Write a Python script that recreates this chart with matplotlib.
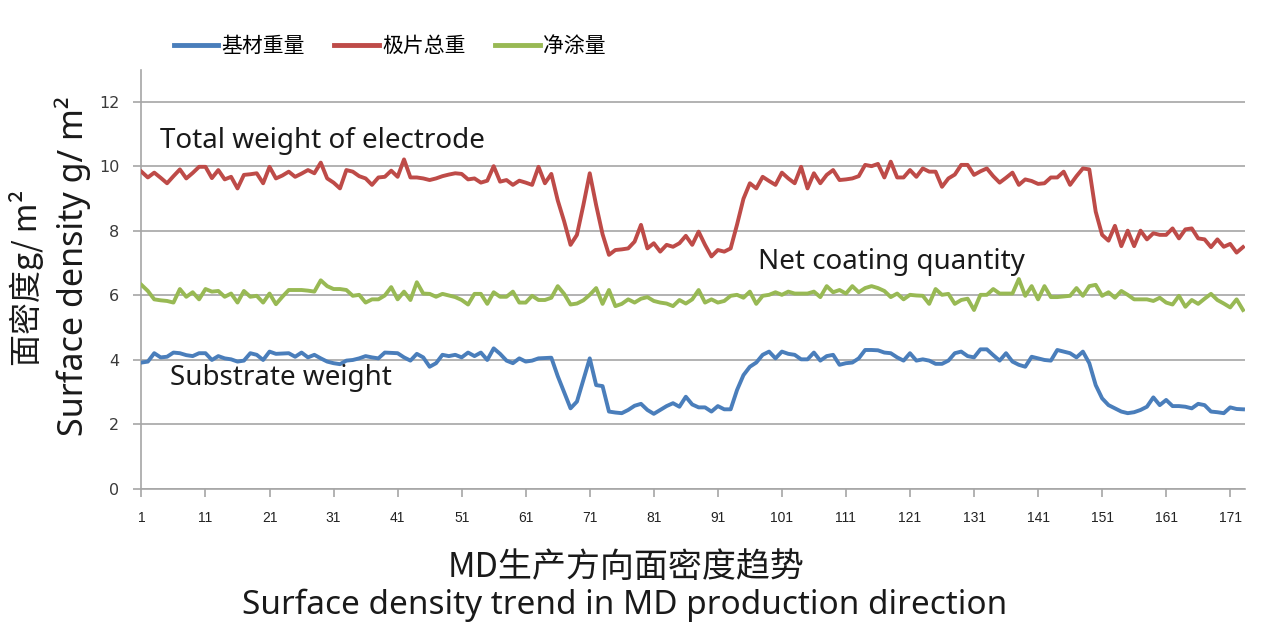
import numpy as np
import matplotlib.pyplot as plt

# 面密度数据 (g/m2)
substrate = [3.92, 3.95, 4.21, 4.08, 4.1, 4.23, 4.21, 4.15, 4.12, 4.21,
             4.21, 4.0, 4.12, 4.05, 4.02, 3.95, 3.98, 4.21, 4.16, 4.0,
             4.26, 4.19, 4.2, 4.21, 4.1, 4.23, 4.08, 4.16, 4.05, 3.95,
             3.9, 3.87, 3.98, 4.0, 4.05, 4.12, 4.08, 4.05, 4.23, 4.22,
             4.21, 4.08, 3.98, 4.19, 4.08, 3.79, 3.9, 4.16, 4.12, 4.16,
             4.08, 4.23, 4.12, 4.23, 4.0, 4.36, 4.19, 3.98, 3.9, 4.05,
             3.95, 3.98, 4.05, 4.06, 4.07, 3.5, 3.0, 2.5, 2.71, 3.38,
             4.05, 3.22, 3.19, 2.4, 2.37, 2.35, 2.45, 2.58, 2.64, 2.45,
             2.33, 2.45, 2.57, 2.66, 2.55, 2.86, 2.62, 2.53, 2.53, 2.4,
             2.57, 2.47, 2.47, 3.07, 3.53, 3.79, 3.92, 4.16, 4.26, 4.05,
             4.26, 4.19, 4.16, 4.02, 4.02, 4.23, 3.98, 4.12, 4.16, 3.85,
             3.9, 3.92, 4.05, 4.31, 4.31, 4.3, 4.23, 4.21, 4.08, 3.98,
             4.21, 3.98, 4.02, 3.98, 3.88, 3.88, 3.98, 4.21, 4.26, 4.12,
             4.08, 4.33, 4.33, 4.15, 3.98, 4.21, 3.95, 3.85, 3.79, 4.1,
             4.05, 4.0, 3.98, 4.31, 4.26, 4.21, 4.08, 4.26, 3.9, 3.22,
             2.81, 2.6, 2.5, 2.4, 2.35, 2.38, 2.45, 2.55, 2.84, 2.6,
             2.76, 2.57, 2.57, 2.55, 2.5, 2.64, 2.6, 2.4, 2.38, 2.35,
             2.53, 2.48, 2.47]

total = [9.84, 9.66, 9.81, 9.65, 9.48, 9.7, 9.91, 9.63, 9.8, 9.99,
         9.99, 9.64, 9.89, 9.6, 9.68, 9.32, 9.74, 9.76, 9.79, 9.48,
         9.99, 9.63, 9.72, 9.84, 9.68, 9.78, 9.89, 9.79, 10.12, 9.63,
         9.5, 9.32, 9.89, 9.84, 9.7, 9.63, 9.43, 9.66, 9.68, 9.87,
         9.68, 10.22, 9.66, 9.66, 9.63, 9.58, 9.63, 9.7, 9.75, 9.79,
         9.77, 9.6, 9.63, 9.5, 9.56, 10.01, 9.53, 9.58, 9.43, 9.56,
         9.5, 9.43, 9.99, 9.48, 9.77, 8.95, 8.3, 7.57, 7.88, 8.8,
         9.79, 8.8, 7.9, 7.26, 7.41, 7.43, 7.46, 7.67, 8.19, 7.46,
         7.62, 7.36, 7.57, 7.51, 7.62, 7.85, 7.57, 7.98, 7.57, 7.21,
         7.41, 7.36, 7.46, 8.2, 9.0, 9.48, 9.32, 9.68, 9.55, 9.43,
         9.81, 9.63, 9.48, 9.99, 9.32, 9.79, 9.48, 9.74, 9.89, 9.58,
         9.6, 9.63, 9.7, 10.05, 10.01, 10.08, 9.66, 10.15, 9.66, 9.66,
         9.89, 9.68, 9.94, 9.84, 9.84, 9.37, 9.63, 9.75, 10.05, 10.05,
         9.74, 9.85, 9.94, 9.7, 9.5, 9.65, 9.81, 9.43, 9.6, 9.55,
         9.46, 9.48, 9.66, 9.66, 9.84, 9.43, 9.7, 9.94, 9.91, 8.6,
         7.88, 7.7, 8.16, 7.53, 8.01, 7.53, 8.01, 7.74, 7.93, 7.88,
         7.88, 8.08, 7.77, 8.05, 8.08, 7.77, 7.74, 7.5, 7.74, 7.51,
         7.6, 7.33, 7.5]

net = [6.33, 6.14, 5.88, 5.85, 5.83, 5.78, 6.2, 5.96, 6.1, 5.88,
       6.2, 6.12, 6.14, 5.96, 6.06, 5.78, 6.14, 5.96, 5.99, 5.78,
       6.06, 5.73, 5.96, 6.17, 6.17, 6.17, 6.15, 6.12, 6.47, 6.29,
       6.2, 6.2, 6.17, 5.99, 6.02, 5.78, 5.88, 5.88, 6.0, 6.26,
       5.88, 6.12, 5.86, 6.41, 6.06, 6.05, 5.96, 6.05, 6.0, 5.95,
       5.86, 5.72, 6.05, 6.05, 5.74, 6.1, 5.96, 5.96, 6.12, 5.78,
       5.78, 5.99, 5.86, 5.86, 5.93, 6.29, 6.05, 5.72, 5.75, 5.85,
       6.02, 6.23, 5.74, 6.17, 5.67, 5.74, 5.88, 5.78, 5.9, 5.95,
       5.83, 5.78, 5.75, 5.67, 5.86, 5.75, 5.88, 6.17, 5.78, 5.88,
       5.78, 5.83, 5.99, 6.02, 5.93, 6.12, 5.74, 5.99, 6.02, 6.1,
       6.02, 6.12, 6.06, 6.06, 6.06, 6.12, 5.95, 6.29, 6.1, 6.17,
       6.06, 6.29, 6.1, 6.23, 6.29, 6.23, 6.14, 5.95, 6.06, 5.88,
       6.02, 6.0, 5.99, 5.74, 6.2, 6.02, 6.05, 5.74, 5.86, 5.9,
       5.55, 6.02, 6.02, 6.2, 6.06, 6.06, 6.06, 6.51, 5.99, 6.29,
       5.88, 6.29, 5.95, 5.95, 5.97, 5.99, 6.23, 5.99, 6.29, 6.33,
       5.99, 6.1, 5.93, 6.14, 6.02, 5.88, 5.88, 5.88, 5.83, 5.93,
       5.78, 5.72, 5.99, 5.65, 5.86, 5.74, 5.9, 6.05, 5.86, 5.75,
       5.63, 5.88, 5.55]

series_names = ['基材重量', '极片总重', '净涂量']
x_ticks = list(range(1, 172, 10))
y_ticks = [0, 2, 4, 6, 8, 10, 12]

points = np.arange(1, len(total) + 1)
colors = ['#4a7ebb', '#be4b48', '#98b954']
grid_col = '#a6a6a6'
en_font = ['Noto Sans', 'Noto Sans CJK SC', 'DejaVu Sans']
cn_font = ['Noto Sans CJK SC', 'DejaVu Sans']

fig = plt.figure(figsize=(12.8, 6.4), dpi=100)
ax = fig.add_axes([0.1105, 0.236, 0.8621, 0.655])

for vals, col, name in zip([substrate, total, net], colors, series_names):
    ax.plot(points, vals, color=col, lw=2.8, label=name, zorder=3,
            solid_joinstyle='round')

ax.set_xlim(1, 173.3)
ax.set_ylim(0, 13)
ax.set_yticks(y_ticks)
ax.set_xticks(x_ticks)
ax.yaxis.grid(True, color=grid_col, lw=1.2)
ax.set_axisbelow(True)
for s in ['top', 'right']:
    ax.spines[s].set_visible(False)
for s in ['left', 'bottom']:
    ax.spines[s].set_color(grid_col)
    ax.spines[s].set_linewidth(1.2)
ax.tick_params(axis='y', direction='out', length=6, width=1.2, color=grid_col,
               labelsize=11.5, labelcolor='#3a3a3a', pad=10)
ax.tick_params(axis='x', direction='out', length=6, width=1.2, color=grid_col,
               labelsize=10, labelcolor='#222222', pad=10)
for lab in ax.get_xticklabels():
    lab.set_fontfamily(['Liberation Sans', 'DejaVu Sans'])

# in-plot annotations
ax.text(3.9, 10.8, 'Total weight of electrode', fontsize=20, family=en_font,
        color='#1a1a1a', va='center')
ax.text(97.3, 7.04, 'Net coating quantity', fontsize=20, family=en_font,
        color='#1a1a1a', va='center')
ax.text(5.4, 3.44, 'Substrate weight', fontsize=20, family=en_font,
        color='#1a1a1a', va='center')

leg = fig.legend(loc='center left', bbox_to_anchor=(0.121, 0.928), ncol=3,
                 frameon=False, prop={'family': cn_font, 'size': 15},
                 handlelength=2.15, handletextpad=0.15, columnspacing=1.4)
for line in leg.get_lines():
    line.set_linewidth(3.5)

# y axis labels (two lines)
fig.text(0.021, 0.566, '面密度g/ m²', rotation=90, fontsize=23,
         family=cn_font, ha='center', va='center', color='#1a1a1a')
fig.text(0.057, 0.584, 'Surface density g/ m²', rotation=90, fontsize=24.5,
         family=en_font, ha='center', va='center', color='#1a1a1a')

# bottom titles
fig.text(0.489, 0.113, 'MD生产方向面密度趋势', fontsize=24.5, family=cn_font,
         ha='center', va='center', color='#1a1a1a')
fig.text(0.488, 0.055, 'Surface density trend in MD production direction',
         fontsize=24, family=en_font, ha='center', va='center', color='#1a1a1a')

fig.savefig('out.png', dpi=100)
